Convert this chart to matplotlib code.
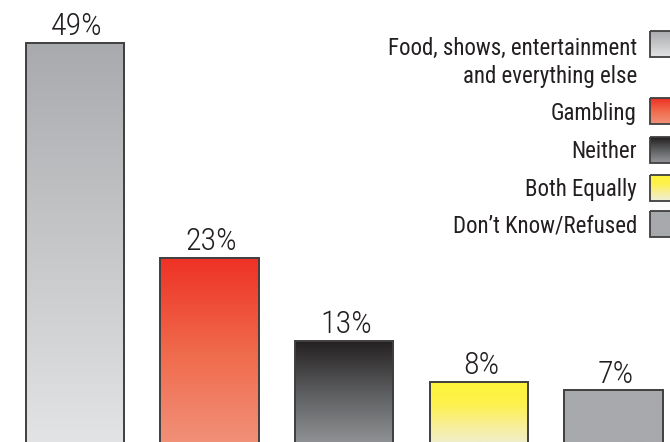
import numpy as np
import matplotlib
matplotlib.use("Agg")
import matplotlib.pyplot as plt
from matplotlib import font_manager
from matplotlib.colors import LinearSegmentedColormap
from matplotlib.patches import Rectangle

# Data
categories = ["Food, shows, entertainment\nand everything else", "Gambling",
              "Neither", "Both Equally", "Don\u2019t Know/Refused"]
values = [49, 23, 13, 8, 7]
value_labels = ["49%", "23%", "13%", "8%", "7%"]

# gradient stops, top -> bottom
gradients = [
    ["#a9aaad", "#e3e4e5"],
    ["#ee3124", "#f06a4c", "#f1937b"],
    ["#231f20", "#5e5f61", "#959699"],
    ["#fff33b", "#fef14b", "#f8ee98", "#eeeed8"],
    ["#a7a9ac", "#a7a9ac"],
]
edge = "#3f3f40"

# pick a narrow font if there is one
names = {f.name for f in font_manager.fontManager.ttflist}
if "Roboto Condensed" in names:
    FONT = dict(family=["Roboto Condensed", "DejaVu Sans"])
elif "Liberation Sans Narrow" in names:
    FONT = dict(family=["Liberation Sans Narrow", "DejaVu Sans"])
else:
    FONT = dict(family=["DejaVu Sans"], stretch="condensed")

fig = plt.figure(figsize=(6.7, 4.42), dpi=100)
ax = fig.add_axes([0, 0, 1, 1])
ax.set_axis_off()


def gradient_fill(axis, rect, stops):
    cmap = LinearSegmentedColormap.from_list("g", stops)
    grad = np.linspace(0, 1, 256).reshape(-1, 1)
    x0, y0 = rect.get_x(), rect.get_y()
    w, h = rect.get_width(), rect.get_height()
    im = axis.imshow(grad, cmap=cmap, extent=(x0, x0 + w, y0, y0 + h),
                     origin="upper", aspect="auto", interpolation="bicubic",
                     zorder=1)
    im.set_clip_path(rect)


x = np.arange(len(values))
bars = ax.bar(x, values, width=0.732, facecolor="none", edgecolor=edge,
              linewidth=1.4, zorder=2)
for b, stops in zip(bars, gradients):
    gradient_fill(ax, b, stops)

for xi, v, lab in zip(x, values, value_labels):
    ax.annotate(lab, (xi, v), xytext=(1.5, 5.5), textcoords="offset points",
                ha="center", va="baseline", fontsize=23, color="#231f20",
                fontweight="light", **FONT)

ax.set_xlim(-0.557, 4.42)
ax.set_ylim(0.73, 54.17)

# legend, drawn in pixel space on an overlay
lg = fig.add_axes([0, 0, 1, 1])
lg.set_axis_off()

text_baselines = [[55, 83], [120], [158], [196], [233]]
swatch_tops = [31, 98, 137, 175, 211]
for cat, bases, top, stops in zip(categories, text_baselines, swatch_tops, gradients):
    for line, yb in zip(cat.split("\n"), bases):
        lg.text(637, yb, line, ha="right", va="baseline", fontsize=16.5,
                color="#231f20", **FONT)
    sw = Rectangle((650, top), 30, 26, facecolor="none", edgecolor=edge,
                   linewidth=1.3, zorder=2)
    lg.add_patch(sw)
    cmap = LinearSegmentedColormap.from_list("s", stops)
    im = lg.imshow(np.linspace(0, 1, 64).reshape(-1, 1), cmap=cmap,
                   extent=(650, 680, top + 26, top), origin="upper",
                   aspect="auto", zorder=1)
    im.set_clip_path(sw)
lg.set_xlim(0, 670)
lg.set_ylim(442, 0)

fig.savefig("out.png", dpi=100)
